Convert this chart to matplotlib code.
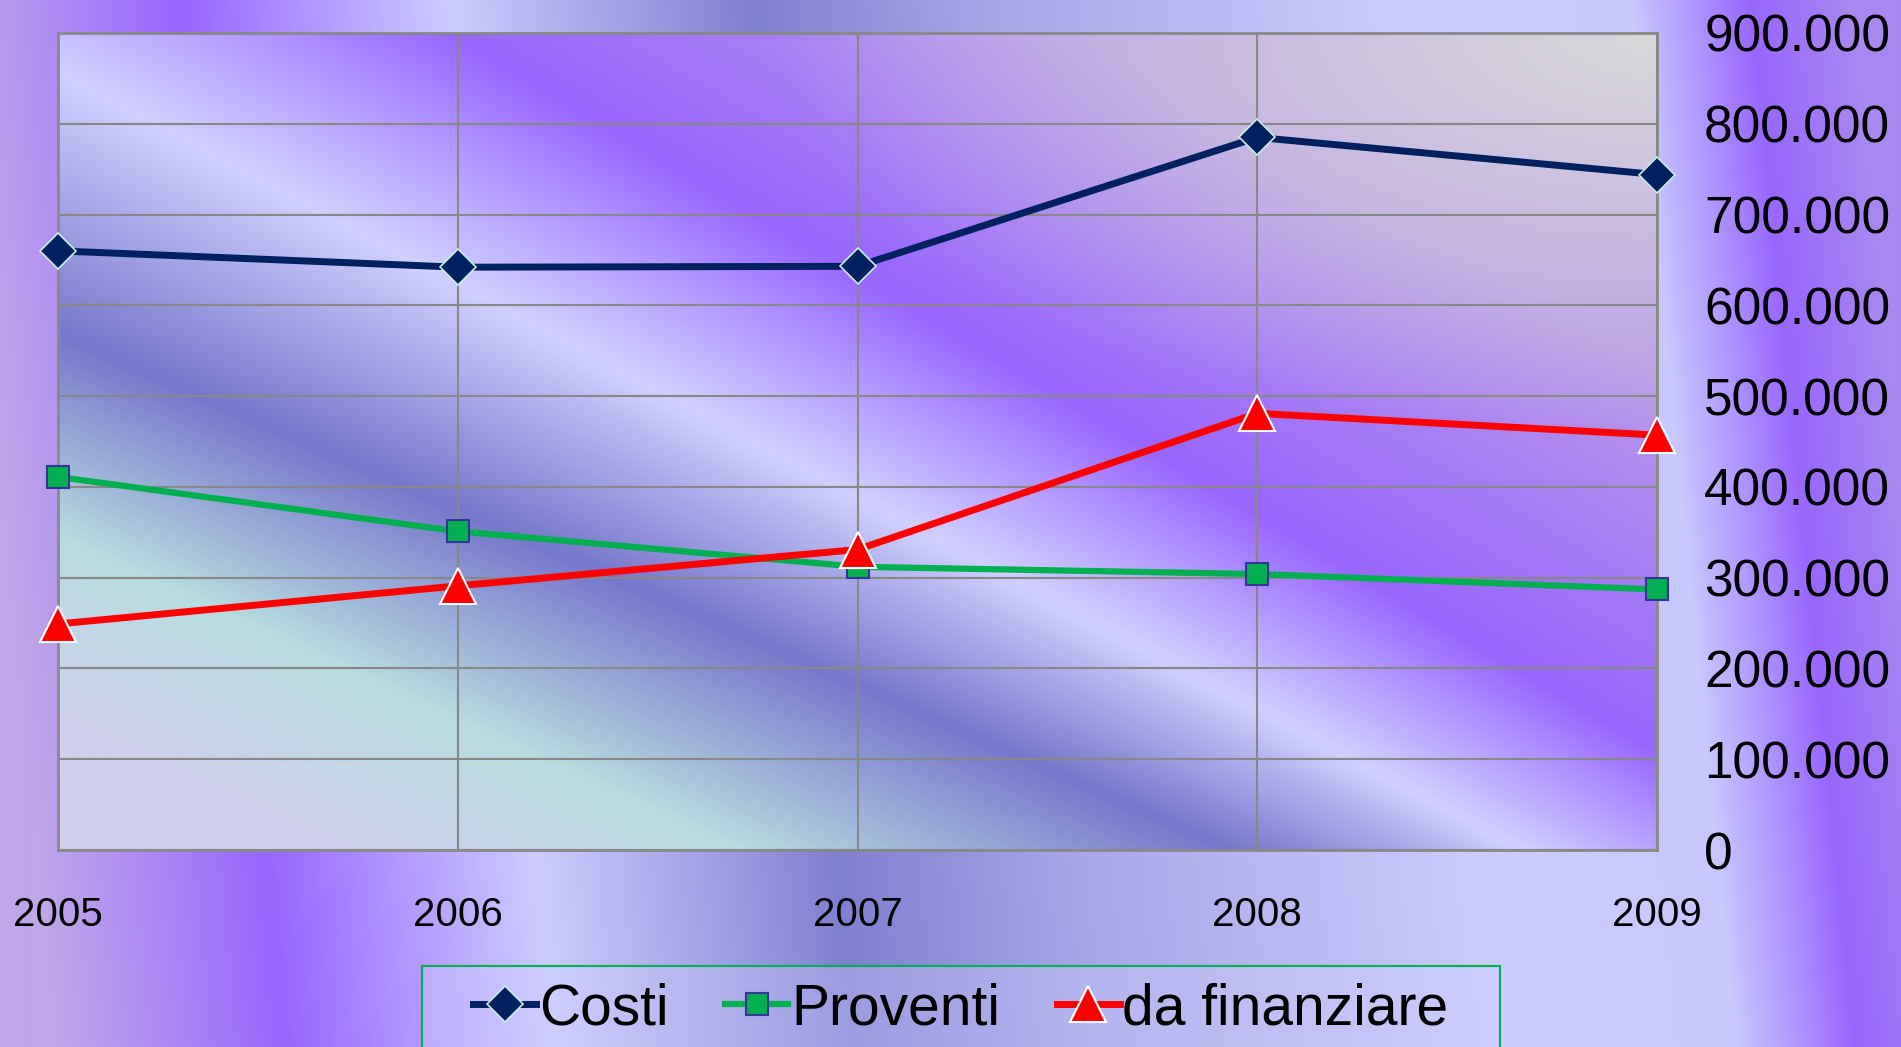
import matplotlib
matplotlib.use("Agg")
import matplotlib.pyplot as plt
from matplotlib.colors import to_rgb
from matplotlib.patches import Rectangle
from matplotlib.ticker import FuncFormatter
import numpy as np

plt.rcParams["font.family"] = ["Liberation Sans", "DejaVu Sans"]

years = [2005, 2006, 2007, 2008, 2009]
costi = [660000, 642000, 643000, 785000, 744000]
proventi = [411000, 351000, 312000, 304000, 287000]
da_finanziare = [249000, 291000, 331000, 481000, 457000]
labels = ["Costi", "Proventi", "da finanziare"]

W, H = 1901, 1047


def ramp(pos, stops, colors):
    # interpolate colour stops along pos, channel by channel
    rgb = np.array([to_rgb(c) for c in colors])
    return np.stack([np.interp(pos, stops, rgb[:, k]) for k in range(3)], axis=-1)


# figure background: soft purple / lavender streaks
xg, yg = np.meshgrid(np.arange(W), np.arange(H))
shift = xg - 0.1 * (yg - 500)
bg_img = ramp(shift,
              [0, 230, 500, 800, 1050, 1450, 1680, 1800, 1901],
              ["#c0a8e8", "#9966ff", "#ccccff", "#8080d0", "#a8a8e8",
               "#ccccff", "#c8c8ff", "#9966ff", "#a888f0"])

# plot area background: diagonal bands + grey corner top right
nx, ny = 700, 360
px = np.linspace(0, 1, nx)
py = np.linspace(0, 1, ny)
bands = [(-0.737, 0.41, "#b89ae8"),
         (-0.287, 0.88, "#9966ff"),
         (0.05, 1.09, "#d0d0ff"),
         (0.37, 1.23, "#7878cc"),
         (0.62, 1.52, "#b8dde0"),
         (0.85, 1.75, "#d0d0ee")]
plot_img = np.zeros((ny, nx, 3))
for i, x in enumerate(px):
    pos = [a + (b - a) * x for a, b, _ in bands]
    plot_img[:, i, :] = ramp(py, pos, [c for _, _, c in bands])
PX, PY = np.meshgrid(px, py)
w = np.clip(1 - np.hypot((1 - PX) / 0.55, PY / 0.5), 0, 1)[..., None]
plot_img = plot_img * (1 - w) + np.array(to_rgb("#d9d9d9")) * w

fig = plt.figure(figsize=(W / 100, H / 100), dpi=100)
bg = fig.add_axes([0, 0, 1, 1])
bg.imshow(bg_img, aspect="auto", extent=(0, 1, 0, 1), interpolation="bilinear")
bg.axis("off")

ax = fig.add_axes([58 / W, 1 - 850 / H, (1657 - 58) / W, (850 - 33) / H])
ax.patch.set_alpha(0)
ax.imshow(plot_img, aspect="auto", extent=(0, 1, 0, 1), transform=ax.transAxes,
          interpolation="bilinear", zorder=0)

ax.plot(years, costi, color="#002060", lw=5.0, marker="D", ms=18.5,
        mfc="#002060", mec="#c8f0e8", mew=1.2, clip_on=False, zorder=3, label=labels[0])
ax.plot(years, proventi, color="#00b050", lw=4.5, marker="s", ms=16,
        mfc="#00b050", mec="#333399", mew=1.5, clip_on=False, zorder=3, label=labels[1])
ax.plot(years, da_finanziare, color="#ff0000", lw=5.0, marker="^", ms=26,
        mfc="#ff0000", mec="white", mew=1.5, clip_on=False, zorder=4, label=labels[2])

ax.set_xlim(2005, 2009)
ax.set_ylim(0, 900000)
ax.set_xticks(years)
ax.set_yticks(np.arange(0, 900001, 100000))
ax.yaxis.tick_right()
ax.yaxis.set_major_formatter(FuncFormatter(lambda v, p: f"{int(v):,}".replace(",", ".")))
ax.tick_params(axis="y", length=0, pad=34, labelsize=37)
ax.tick_params(axis="x", length=0, pad=33, labelsize=29)
ax.set_axisbelow(True)
ax.grid(True, color="#888888", lw=1.5)
for s in ax.spines.values():
    s.set_color("#888888")
    s.set_linewidth(2)

fig.add_artist(Rectangle((422 / W, -0.01), (1500 - 422) / W, (1047 - 966) / H + 0.01,
                         transform=fig.transFigure, facecolor=(0.82, 0.82, 1.0, 0.35),
                         edgecolor="#00b050", lw=1.5))
handles, labs = ax.get_legend_handles_labels()
fig.legend(handles, labs, loc="center", bbox_to_anchor=(0.5055, 0.036), ncol=3,
           frameon=False, fontsize=41, handlelength=1.1, handletextpad=0.05,
           columnspacing=1.0)

fig.savefig("out.png", dpi=100)
